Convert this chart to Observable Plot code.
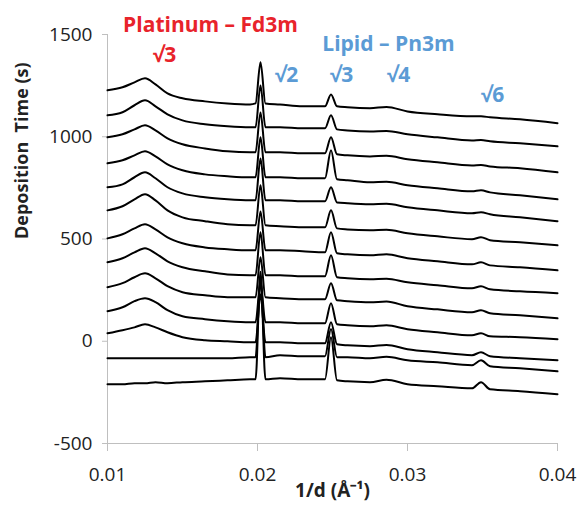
<!DOCTYPE html>
<html><head><meta charset="utf-8">
<script src="https://cdn.jsdelivr.net/npm/d3@7"></script>
<script src="https://cdn.jsdelivr.net/npm/@observablehq/plot@0.6"></script>
<style>body{margin:0;background:#fff;} #chart{width:579px;height:515px;}</style>
</head><body><div id="chart"></div>
<script>
// 1/d positions (Å^-1) at which each profile was read
const q = [0.0100, 0.0110, 0.0118, 0.0125, 0.0132, 0.0140, 0.0150, 0.0165, 0.0180, 0.0195,
           0.01987, 0.0202, 0.02053, 0.0215, 0.0230, 0.0245, 0.0249, 0.0253, 0.0260, 0.0275,
           0.0286, 0.0300, 0.0320, 0.0343, 0.0349, 0.0355, 0.0375, 0.0400];

// offset profiles, top (latest) to bottom (earliest)
const t1  = [1227,1242,1266,1286,1256,1212,1188,1173,1163,1158,1163,1364,1163,1158,1149,1149,1207,1149,1144,1139,1146,1124,1110,1100,1100,1095,1085,1066];
const t2  = [1105,1120,1154,1178,1149,1110,1080,1061,1051,1046,1046,1251,1046,1046,1041,1041,1105,1036,1031,1026,1028,1012,997,982,984,978,968,953];
const t3  = [997,1012,1036,1056,1031,992,963,943,929,924,924,1119,924,924,919,919,997,914,909,904,907,890,875,860,862,855,846,826];
const t4  = [870,885,909,929,904,865,836,816,807,802,802,997,802,802,797,797,934,792,787,777,780,763,748,733,738,728,714,694];
const t5  = [753,767,802,826,797,753,723,704,694,689,689,894,689,689,684,684,753,679,675,670,672,655,640,626,631,621,606,587];
const t6  = [640,660,694,719,689,640,606,587,572,567,567,763,567,562,557,557,640,552,547,543,545,528,513,499,509,494,484,469];
const t7  = [503,523,552,572,547,508,479,459,450,445,445,635,445,445,440,435,533,430,425,420,425,406,391,376,386,371,362,347];
const t8  = [386,406,435,455,430,391,362,342,327,323,323,533,323,323,318,318,420,313,308,303,306,288,274,259,269,254,244,235];
const t9  = [264,284,313,332,308,269,240,225,215,215,215,411,215,210,205,205,284,200,196,191,194,171,156,142,152,137,127,112];
const t10 = [147,166,196,210,191,152,122,108,98,93,93,288,93,93,88,88,186,83,78,73,78,59,44,29,39,24,20,10];
const t11 = [39,54,68,83,68,44,20,5,0,-5,-5,230,-5,-5,-10,-10,93,-15,-20,-24,-18,-39,-54,-68,-54,-73,-83,-93];
const t12 = [-83,-83,-83,-83,-83,-83,-83,-83,-83,-78,-78,300,-78,-68,-73,-73,60,-78,-78,-83,-76,-93,-103,-117,-93,-122,-132,-147];
const t13 = [-210,-210,-205,-205,-200,-205,-200,-196,-191,-186,-186,340,-186,-181,-186,-186,20,-191,-196,-200,-188,-210,-220,-230,-200,-235,-244,-259];
const traces = [t1,t2,t3,t4,t5,t6,t7,t8,t9,t10,t11,t12,t13];

const xTicks = [0.01, 0.02, 0.03, 0.04];
const yTicks = [-500, 0, 500, 1000, 1500];

const ptLabels = ["Platinum – Fd3m", "√3"];
const ptLabelX = [0.01687, 0.0138];
const ptLabelY = [1545, 1398];
const lipidLabels = ["Lipid – Pn3m", "√2", "√3", "√4", "√6"];
const lipidLabelX = [0.02873, 0.02193, 0.0256, 0.0294, 0.03567];
const lipidLabelY = [1452, 1300, 1300, 1300, 1202];

const rows = traces.flatMap((t, i) => t.map((v, j) => ({trace: i, q: q[j], v})));
const ptRows = ptLabels.map((text, i) => ({text, x: ptLabelX[i], y: ptLabelY[i]}));
const lipidRows = lipidLabels.map((text, i) => ({text, x: lipidLabelX[i], y: lipidLabelY[i]}));

const chart = Plot.plot({
  width: 579, height: 515,
  marginLeft: 107, marginRight: 22, marginTop: 34, marginBottom: 72,
  style: {fontFamily: "'Open Sans', sans-serif", background: "#fff", color: "#222"},
  x: {domain: [0.01, 0.04]},
  y: {domain: [-500, 1500]},
  marks: [
    Plot.ruleY([-500], {stroke: "#bfbfbf"}),
    Plot.ruleX([0.01], {stroke: "#bfbfbf"}),
    Plot.axisX({ticks: xTicks, tickFormat: d => d.toFixed(2), tickSize: 8, tickPadding: 16, stroke: "#bfbfbf", fill: "#222", fontSize: 19, label: null}),
    Plot.axisY({ticks: yTicks, tickFormat: d => String(d), tickSize: 5, tickPadding: 10, stroke: "#bfbfbf", fill: "#222", fontSize: 19, label: null}),
    Plot.line(rows, {x: "q", y: "v", z: "trace", stroke: "#000", strokeWidth: 2, strokeLinejoin: "round", curve: "monotone-x"}),
    Plot.text(ptRows, {x: "x", y: "y", text: "text", fill: "#e8232b", fontWeight: "bold", fontSize: 21}),
    Plot.text(lipidRows, {x: "x", y: "y", text: "text", fill: "#5b9bd5", fontWeight: "bold", fontSize: 21}),
    Plot.text(["1/d (Å⁻¹)"], {frameAnchor: "bottom", dy: 53, fontWeight: "bold", fontSize: 19, fill: "#222"}),
    Plot.text(["Deposition  Time (s)"], {frameAnchor: "left", dx: -85, rotate: -90, fontWeight: "bold", fontSize: 18, fill: "#222"})
  ]
});
document.getElementById("chart").appendChild(chart);
</script>
</body></html>
